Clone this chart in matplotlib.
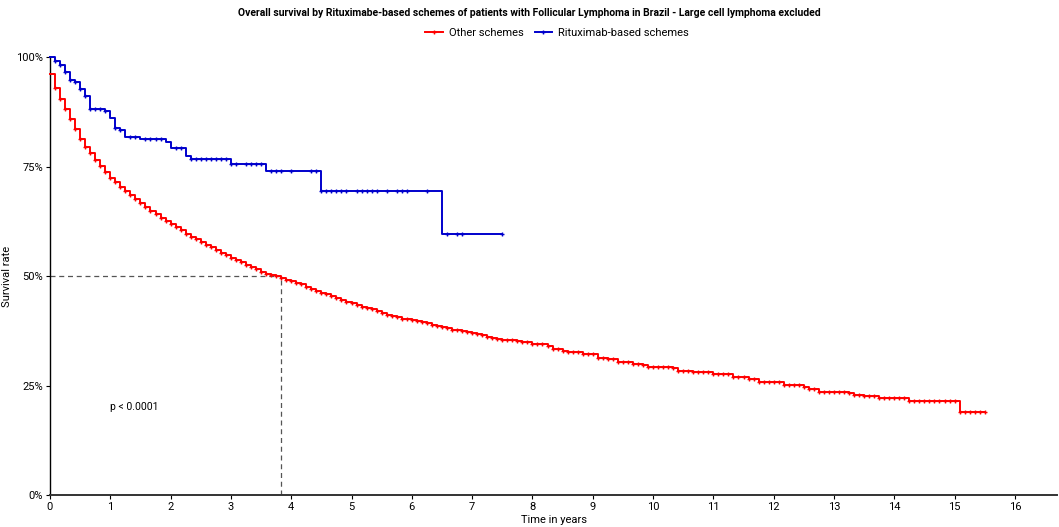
import numpy as np
import matplotlib.pyplot as plt
from matplotlib.lines import Line2D

plt.rcParams['font.family'] = ['Roboto', 'DejaVu Sans']

# Kaplan-Meier steps (time in months, survival in %)
other_month = [0, 1, 2, 3, 4, 5, 6, 7, 8, 9, 10, 11, 12, 13, 14, 15, 16, 17, 18, 19,
               20, 21, 22, 23, 24, 25, 26, 27, 28, 29, 30, 31, 32, 33, 34, 35, 36, 37, 38, 39,
               40, 41, 42, 43, 44, 45, 46, 47, 48, 49, 50, 51, 52, 53, 54, 55, 56, 57, 58, 59,
               60, 61, 62, 63, 64, 65, 66, 67, 68, 69, 70, 71, 72, 73, 74, 75, 76, 77, 78, 79,
               80, 81, 82, 83, 84, 85, 86, 87, 88, 89, 90, 91, 92, 93, 94,
               96, 99, 100, 102, 103, 106, 109, 111, 113, 116, 118, 119, 124, 125, 128, 132,
               136, 139, 141, 146, 150, 151, 153, 159, 160, 162, 165, 171, 181, 186]
other_surv = [96.2, 92.9, 90.5, 88.1, 85.8, 83.5, 81.3, 79.5, 78.0, 76.5, 75.1, 73.8, 72.5,
              71.5, 70.4, 69.4, 68.5, 67.6, 66.6, 65.8, 64.9, 64.2, 63.3, 62.6, 61.9, 61.1,
              60.5, 59.7, 59.0, 58.4, 57.8, 57.1, 56.6, 55.9, 55.3, 54.7, 54.1, 53.7, 53.1,
              52.6, 52.1, 51.5, 51.0, 50.5, 50.3, 50.1, 49.6, 49.1, 48.9, 48.5, 48.1, 47.6,
              47.0, 46.6, 46.2, 45.8, 45.4, 45.1, 44.5, 44.1, 43.9, 43.5, 43.0, 42.6, 42.4,
              42.0, 41.6, 41.2, 40.9, 40.6, 40.3, 40.1, 40.0, 39.8, 39.5, 39.2, 38.8, 38.6,
              38.4, 38.1, 37.7, 37.6, 37.5, 37.2, 37.1, 36.8, 36.5, 36.1, 35.9, 35.7, 35.5,
              35.4, 35.3, 35.2, 35.0,
              34.5, 34.1, 33.3, 32.9, 32.6, 32.1, 31.3, 31.0, 30.4, 30.0, 29.7, 29.2, 28.9,
              28.4, 28.0, 27.6, 26.9, 26.5, 25.9, 25.1, 24.6, 24.1, 23.6, 23.2, 22.8, 22.6,
              22.1, 21.5, 19.0, 19.0]
other_censor = list(range(1, 187))

ritux_month = [0, 1, 2, 3, 4, 5, 6, 7, 8, 11, 12, 13, 14, 15, 18, 23, 24, 27, 28, 36,
               43, 54, 78, 90]
ritux_surv = [100.0, 99.2, 98.2, 96.7, 94.7, 94.3, 92.7, 91.2, 88.2, 87.6, 86.1, 83.8,
              83.3, 81.8, 81.3, 80.6, 79.2, 77.5, 76.8, 75.6, 74.0, 69.5, 59.7, 59.7]
ritux_censor = [1, 2, 3, 4, 5, 6, 7, 8, 9, 10, 11, 13, 14, 16, 17, 19, 20, 21, 22, 25, 26,
                28, 29, 30, 31, 32, 33, 34, 35, 36, 37, 39, 40, 41, 42, 44, 45, 46, 48, 52,
                53, 54, 55, 56, 57, 58, 59, 61, 62, 63, 64, 65, 67, 69, 70, 71, 75, 79, 81,
                82, 90]

median_other = 3.83
pval_text = "p < 0.0001"

fig = plt.figure(figsize=(10.59, 5.27), dpi=100)
ax = fig.add_axes([0.0472, 0.0607, 0.951, 0.831])

groups = [("Other schemes", other_month, other_surv, other_censor, "#ff0000"),
          ("Rituximab-based schemes", ritux_month, ritux_surv, ritux_censor, "#0000cc")]
handles = []
for name, month, surv, cens, col in groups:
    t = np.array(month) / 12.0
    s = np.array(surv)
    ax.step(t, s, where="post", color=col, lw=1.4, clip_on=False, zorder=3)
    c = np.array(cens)
    idx = np.searchsorted(month, c, side="right") - 1
    ax.plot(c / 12.0, s[idx], ls="none", marker="+", ms=3, mew=1.0, color=col,
            clip_on=False, zorder=4)
    handles.append(Line2D([], [], color=col, lw=1.4, marker="+", ms=3, mew=1.0, label=name))

# median survival lines
ax.plot([0, median_other], [50, 50], ls=(0, (4, 3)), color="#555555", lw=0.9, zorder=2)
ax.plot([median_other, median_other], [0, 50], ls=(0, (4, 3)), color="#555555", lw=0.9,
        zorder=2)

ax.text(1.0, 20, pval_text, fontsize=7.5, ha="left", va="center")

ax.set_xlim(0, 16.7)
ax.set_ylim(0, 100)
ax.set_xticks(range(0, 17))
ax.set_yticks([0, 25, 50, 75, 100])
ax.set_yticklabels(["0%", "25%", "50%", "75%", "100%"])
ax.tick_params(labelsize=8, length=3, width=0.8, pad=2)
for sp in ["top", "right"]:
    ax.spines[sp].set_visible(False)
ax.spines["left"].set_linewidth(1.0)
ax.spines["bottom"].set_linewidth(1.4)
ax.spines["bottom"].set_color("#333333")

ax.set_xlabel("Time in years", fontsize=8, labelpad=2)
ax.set_ylabel("Survival rate", fontsize=8, labelpad=3)

fig.text(0.5, 0.985, "Overall survival by Rituximabe-based schemes of patients with "
         "Follicular Lymphoma in Brazil - Large cell lymphoma excluded",
         ha="center", va="top", fontsize=7.5, fontweight="bold")
fig.legend(handles=handles, loc="center", bbox_to_anchor=(0.526, 0.937), ncol=2,
           frameon=False, fontsize=8, handlelength=1.6, handletextpad=0.5,
           columnspacing=1.0)

fig.savefig("out.png", dpi=100)
